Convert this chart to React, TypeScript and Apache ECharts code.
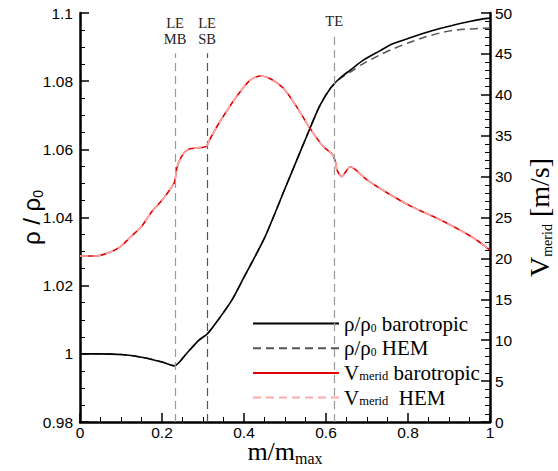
import React, { useEffect, useRef } from "react";
import * as echarts from "echarts";

// ---- data ----
const xRho = [0, 0.05, 0.1, 0.15, 0.2, 0.23, 0.26, 0.29, 0.31, 0.33, 0.37, 0.4, 0.45, 0.5, 0.561, 0.585, 0.61, 0.635, 0.66, 0.69, 0.73, 0.76, 0.8, 0.84, 0.88, 0.91, 0.95, 0.98, 1.0];
const rhoBaro = [1.0, 1.0, 0.9998, 0.999, 0.9976, 0.9965, 1.0001, 1.004, 1.0058, 1.0088, 1.0157, 1.0225, 1.034, 1.0485, 1.0662, 1.0728, 1.0778, 1.081, 1.0833, 1.0861, 1.0888, 1.0908, 1.0925, 1.0941, 1.0955, 1.0964, 1.0975, 1.0982, 1.0985];
const rhoHem = [1.0, 1.0, 0.9998, 0.999, 0.9976, 0.9965, 1.0001, 1.004, 1.0058, 1.0088, 1.0157, 1.0225, 1.034, 1.0485, 1.0662, 1.0728, 1.0778, 1.0808, 1.0827, 1.0851, 1.0876, 1.0893, 1.0912, 1.0929, 1.0942, 1.0949, 1.0953, 1.0955, 1.0956];

const xV = [0, 0.04, 0.076, 0.1, 0.125, 0.15, 0.175, 0.2, 0.222, 0.231, 0.236, 0.247, 0.263, 0.285, 0.308, 0.316, 0.341, 0.382, 0.415, 0.44, 0.463, 0.496, 0.529, 0.561, 0.593, 0.614, 0.622, 0.627, 0.638, 0.659, 0.7, 0.75, 0.81, 0.88, 0.96, 1.0];
const vBaro = [20.3, 20.3, 20.8, 21.5, 22.7, 23.9, 25.7, 27.1, 28.6, 29.4, 31.0, 32.4, 33.3, 33.5, 33.7, 34.5, 36.7, 39.8, 41.8, 42.3, 42.0, 40.8, 38.5, 35.9, 33.7, 32.8, 32.0, 30.8, 30.0, 31.2, 29.6, 28.0, 26.3, 24.7, 22.5, 21.0];
const vHem = vBaro.slice();

const markerNames = ["LE\nMB", "LE\nSB", "TE"];
const markerX = [0.232, 0.31, 0.62];
const markerTop = [1.0882, 1.0882, 1.0935];
const markerColors = ["#9a9a9a", "#555555", "#9a9a9a"];

const xTicks = { min: 0, max: 1, interval: 0.2 };
const rhoTicks = { min: 0.98, max: 1.1, interval: 0.02 };
const vTicks = { min: 0, max: 50, interval: 5 };

const seriesNames = ["rhoBaro", "rhoHem", "vBaro", "vHem"];

const pairs = (xs: number[], ys: number[]) => xs.map((x, i) => [x, ys[i]]);

const SERIF = "Liberation Serif";
const SANS = "Liberation Sans";

export default function App() {
  const ref = useRef<HTMLDivElement>(null);
  useEffect(() => {
    document.body.style.margin = "0";
    if (!ref.current) return;
    const chart = echarts.init(ref.current, undefined, { renderer: "svg" });

    const legendText: Record<string, string> = {
      rhoBaro: "{a|ρ/ρ}{s|0}{a| barotropic}",
      rhoHem: "{a|ρ/ρ}{s|0}{a| HEM}",
      vBaro: "{a|V}{m|merid}{a| barotropic}",
      vHem: "{a|V}{m|merid}{a|  HEM}",
    };

    const axisCommon = {
      axisLine: { show: true, lineStyle: { color: "#000", width: 2.5 } },
      axisTick: { show: true, inside: true, length: 9, lineStyle: { color: "#000", width: 1.5 } },
      minorTick: { show: true, length: 5, lineStyle: { color: "#000", width: 1 } },
      splitLine: { show: false },
      axisLabel: { color: "#000", fontFamily: SANS, fontSize: 15.5 },
      nameMoveOverlap: false,
    };

    const markData = markerX.map((x, i) => [
      {
        coord: [x, rhoTicks.min],
        lineStyle: { color: markerColors[i], type: [8, 5], width: 1.2 },
        label: {
          show: true,
          position: "end",
          formatter: markerNames[i],
          fontFamily: SERIF,
          fontSize: 14.5,
          lineHeight: 16,
          color: "#222",
          distance: 6,
        },
      },
      { coord: [x, markerTop[i]] },
    ]);

    chart.setOption({
      animation: false,
      backgroundColor: "#fff",
      textStyle: { fontFamily: SERIF },
      grid: { left: 80, right: 68, top: 13, bottom: 49, containLabel: false, outerBoundsMode: "none" },
      legend: {
        orient: "vertical",
        left: 252,
        top: 313,
        padding: 0,
        itemWidth: 86,
        itemHeight: 20,
        itemGap: 3.7,
        data: seriesNames,
        itemStyle: { opacity: 0 },
        formatter: (n: string) => legendText[n],
        textStyle: {
          fontFamily: SERIF,
          fontSize: 21,
          color: "#000",
          rich: {
            a: { fontFamily: SERIF, fontSize: 21, lineHeight: 20, color: "#000" },
            s: { fontFamily: SERIF, fontSize: 11.5, lineHeight: 8, verticalAlign: "bottom", color: "#000" },
            m: { fontFamily: SERIF, fontSize: 12.5, lineHeight: 6, verticalAlign: "bottom", color: "#000" },
          },
        },
      },
      xAxis: {
        type: "value",
        ...xTicks,
        ...axisCommon,
        axisLine: { show: true, onZero: false, lineStyle: { color: "#000", width: 2.5 } },
        minorTick: { ...axisCommon.minorTick, splitNumber: 4 },
        axisLabel: { ...axisCommon.axisLabel, margin: 2 },
        name: "{a|m/m}{s|max}",
        nameLocation: "middle",
        nameGap: 14,
        nameTextStyle: {
          fontFamily: SERIF,
          rich: {
            a: { fontFamily: SERIF, fontSize: 26, lineHeight: 30, color: "#000" },
            s: { fontFamily: SERIF, fontSize: 16, lineHeight: 8, verticalAlign: "bottom", color: "#000" },
          },
        },
      },
      yAxis: [
        {
          type: "value",
          position: "left",
          ...rhoTicks,
          ...axisCommon,
          minorTick: { ...axisCommon.minorTick, splitNumber: 4 },
          axisLabel: { ...axisCommon.axisLabel, margin: 7 },
          name: "{a|ρ / ρ}{s|0}",
          nameLocation: "middle",
          nameRotate: 90,
          nameGap: 35,
          nameTextStyle: {
            fontFamily: SANS,
            rich: {
              a: { fontFamily: SANS, fontSize: 24, lineHeight: 28, color: "#000" },
              s: { fontFamily: SANS, fontSize: 14, lineHeight: 12, verticalAlign: "bottom", color: "#000" },
            },
          },
        },
        {
          type: "value",
          position: "right",
          ...vTicks,
          ...axisCommon,
          minorTick: { ...axisCommon.minorTick, splitNumber: 5 },
          axisLabel: { ...axisCommon.axisLabel, margin: 5 },
          name: "{a|V}{s|merid}{a| [m/s]}",
          nameLocation: "middle",
          nameRotate: 90,
          nameGap: 34,
          nameTextStyle: {
            fontFamily: SERIF,
            rich: {
              a: { fontFamily: SERIF, fontSize: 28, lineHeight: 30, color: "#000" },
              s: { fontFamily: SERIF, fontSize: 14, lineHeight: 12, verticalAlign: "bottom", color: "#000" },
            },
          },
        },
      ],
      series: [
        {
          name: "rhoHem",
          type: "line",
          yAxisIndex: 0,
          data: pairs(xRho, rhoHem),
          showSymbol: false,
          symbol: "none",
          smooth: 0.25,
          lineStyle: { color: "#555", width: 1.5, type: [8, 5] },
          itemStyle: { color: "#555" },
          z: 2,
        },
        {
          name: "rhoBaro",
          type: "line",
          yAxisIndex: 0,
          data: pairs(xRho, rhoBaro),
          showSymbol: false,
          symbol: "none",
          smooth: 0.25,
          lineStyle: { color: "#000", width: 1.6 },
          itemStyle: { color: "#000" },
          z: 3,
          markLine: {
            silent: true,
            symbol: ["none", "none"],
            animation: false,
            data: markData,
          },
        },
        {
          name: "vBaro",
          type: "line",
          yAxisIndex: 1,
          data: pairs(xV, vBaro),
          showSymbol: false,
          symbol: "none",
          smooth: 0.25,
          lineStyle: { color: "#e00000", width: 1.6 },
          itemStyle: { color: "#e00000" },
          z: 4,
        },
        {
          name: "vHem",
          type: "line",
          yAxisIndex: 1,
          data: pairs(xV, vHem),
          showSymbol: false,
          symbol: "none",
          smooth: 0.25,
          lineStyle: { color: "#ffaaaa", width: 1.6, type: [8, 5] },
          itemStyle: { color: "#ffaaaa" },
          z: 5,
        },
      ],
    });
    return () => chart.dispose();
  }, []);
  return <div ref={ref} style={{ width: 558, height: 471 }} />;
}
